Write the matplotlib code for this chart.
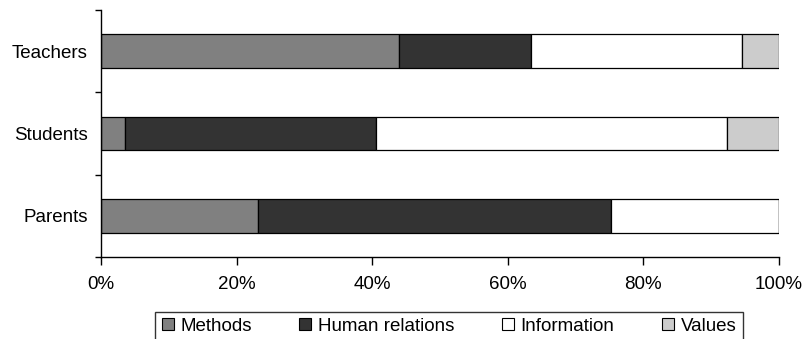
import matplotlib
matplotlib.use("Agg")
import matplotlib.pyplot as plt
from matplotlib.patches import Patch
from matplotlib.ticker import FixedLocator, FuncFormatter

groups = ["Parents", "Students", "Teachers"]
series = ["Methods", "Human relations", "Information", "Values"]
colors = ["#808080", "#333333", "#ffffff", "#cccccc"]

methods = [23.1, 3.6, 43.9]
human_relations = [52.1, 36.9, 19.5]
information = [24.8, 51.8, 31.2]
values = [0.0, 7.7, 5.4]

plt.rcParams['font.family'] = ['Liberation Sans', 'DejaVu Sans']
FS = 13.5

fig = plt.figure(figsize=(8.1, 3.39), dpi=100)
ax = fig.add_axes([101 / 810, 1 - 257 / 339, 678 / 810, 247 / 339])

left = [0.0] * len(groups)
for name, data, c in zip(series, [methods, human_relations, information, values], colors):
    ax.barh(range(len(groups)), data, left=left, height=0.41, color=c,
            edgecolor="black", linewidth=0.9, label=name)
    left = [l + d for l, d in zip(left, data)]

ax.set_xlim(0, 100)
ax.set_ylim(-0.5, 2.5)
ax.set_xticks([0, 20, 40, 60, 80, 100])
ax.xaxis.set_major_formatter(FuncFormatter(lambda v, p: "%d%%" % v))

# category ticks sit between the bars, labels at the centres
ax.yaxis.set_major_locator(FixedLocator([-0.5, 0.5, 1.5, 2.5]))
ax.yaxis.set_major_formatter(FuncFormatter(lambda v, p: ""))
ax.yaxis.set_minor_locator(FixedLocator(range(len(groups))))
ax.set_yticklabels(groups, minor=True)
ax.tick_params(axis="y", which="minor", length=0, pad=9.5, labelsize=FS)
ax.tick_params(axis="y", which="major", length=4, width=1)
ax.tick_params(axis="x", length=6, width=1, pad=8, labelsize=FS)

for s in ["top", "right"]:
    ax.spines[s].set_visible(False)
for s in ["left", "bottom"]:
    ax.spines[s].set_linewidth(1)

handles = [Patch(facecolor=c, edgecolor="black", linewidth=0.8, label=n)
           for n, c in zip(series, colors)]
leg = fig.legend(handles=handles, loc="upper center", ncol=4,
                 bbox_to_anchor=(449 / 810, 1 - 311.5 / 339),
                 frameon=True, fancybox=False, fontsize=FS,
                 handlelength=0.64, handleheight=0.64, handletextpad=0.37,
                 columnspacing=2.52, borderpad=0.34, borderaxespad=0)
leg.get_frame().set_edgecolor("black")
leg.get_frame().set_linewidth(1)

fig.savefig("out.png", dpi=100)
